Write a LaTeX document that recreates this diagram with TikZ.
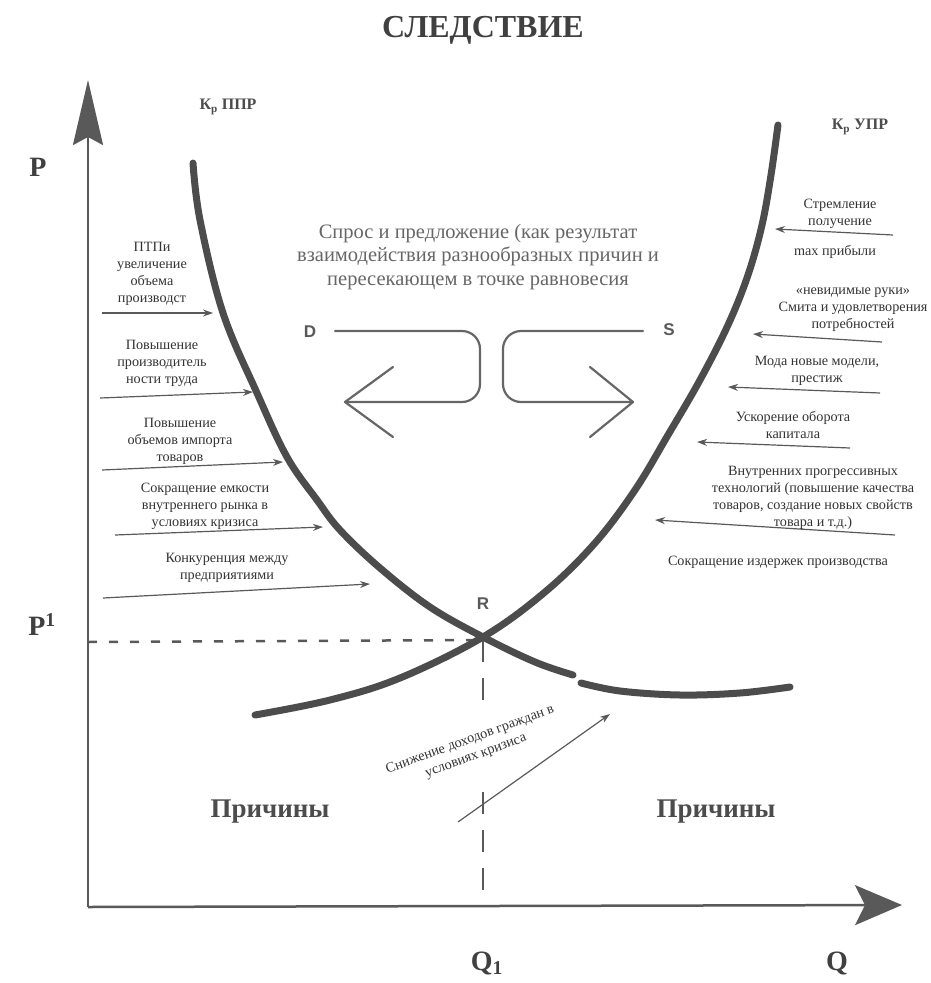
\documentclass[tikz,border=0pt]{standalone}
\usepackage{fontspec}
\setmainfont{Liberation Serif}
\newfontfamily\gillfont{Liberation Sans}
\usetikzlibrary{arrows.meta}
\tikzset{
  curve/.style={line width=7pt, draw=black!70, line cap=round},
  axis/.style={line width=2.5pt, draw=black!65},
  cause/.style={line width=1.2pt, draw=black!65, -{Stealth[length=10pt,width=7pt]}},
  note/.style={font=\fontsize{14.2}{17}\selectfont, text=black!80, align=center, inner sep=0pt},
  bignote/.style={font=\fontsize{20.5}{23.5}\selectfont, text=black!60, align=center, inner sep=0pt},
  axislabel/.style={font=\fontsize{28}{30}\selectfont\bfseries, text=black!75, inner sep=0pt},
  curvelabel/.style={font=\fontsize{16}{18}\selectfont\bfseries, text=black!70, inner sep=0pt},
  sslabel/.style={font=\gillfont\fontsize{17}{18}\selectfont\bfseries, text=black!65, inner sep=0pt},
  reason/.style={font=\fontsize{27}{29}\selectfont\bfseries, text=black!70, inner sep=0pt},
  hookline/.style={line width=2.2pt, draw=black!60, line cap=round, line join=round}
}
\begin{document}
\begin{tikzpicture}[x=1pt,y=-1pt]
\useasboundingbox (0,0) rectangle (930,983);
\node[font=\fontsize{32}{34}\selectfont\bfseries, text=black!75] (title) at (483,30) {СЛЕДСТВИЕ};
\coordinate (O) at (88,907);
\coordinate (Ptop) at (88,80);
\coordinate (Qend) at (902,905);
\draw[axis, -{Stealth[length=65pt,width=30pt,inset=8pt]}] (O) -- (Ptop);
\draw[axis, -{Stealth[length=47pt,width=40pt,inset=10pt]}] (O) -- (Qend);
\node[axislabel] (P) at (38,167) {P};
\node[axislabel] (P1) at (42,625) {P\textsuperscript{1}};
\node[axislabel] (Q1) at (487,963) {Q\textsubscript{1}};
\node[axislabel] (Q) at (837,963) {Q};
\coordinate (Pone) at (88,642);
\coordinate (R) at (483,640);
\coordinate (Rgap) at (483,705);
\coordinate (Qgap) at (483,792);
\coordinate (Qone) at (483,907);
\draw[line width=2.5pt, draw=black!65, dash pattern=on 9pt off 12pt] (Pone) -- (R);
\draw[line width=1.5pt, draw=black!65, dash pattern=on 22pt off 16pt] (R) -- (Rgap);
\draw[line width=1.5pt, draw=black!65, dash pattern=on 22pt off 16pt] (Qgap) -- (Qone);
\node[sslabel] (Rlab) at (483,604) {R};
\draw[curve] plot[smooth, tension=0.6] coordinates {(193,163) (200,220) (223,313) (257,393) (287,457) (317,500) (340,530) (380,568) (430,607) (483,637) (535,662) (573,675)};
\draw[curve] plot[smooth, tension=0.6] coordinates {(581,683) (620,691) (680,695) (740,693) (790,687)};
\draw[curve] plot[smooth, tension=0.6] coordinates {(255,715) (330,700) (400,678) (483,637) (545,592) (595,543) (635,490) (668,435) (700,380) (728,325) (748,275) (762,225) (771,175) (778,125)};
\node[curvelabel] (kppr) at (228,107) {К\textsubscript{р} ППР};
\node[curvelabel] (kupr) at (860,127) {К\textsubscript{р} УПР};
\node[bignote] (center) at (478,257) {Спрос и предложение (как результат\\взаимодействия разнообразных причин и\\пересекающем в точке равновесия};
\node[sslabel] (D) at (310,332) {D};
\node[sslabel] (S) at (669,330) {S};
\draw[hookline, rounded corners=18pt] (335,331) -- (480,331) -- (480,402) -- (345,402);
\draw[hookline] (393,367) -- (345,402) -- (393,437);
\draw[hookline, rounded corners=18pt] (643,331) -- (503,331) -- (503,402) -- (633,402);
\draw[hookline] (590,367) -- (633,402) -- (590,437);
\foreach \n/\xa/\ya/\xb/\yb in {1/102/313/213/313, 2/100/398/253/392, 3/102/470/283/462, 4/115/535/323/527, 5/103/598/370/584} {
  \coordinate (lin\n) at (\xa,\ya);
  \coordinate (lout\n) at (\xb,\yb);
  \draw[cause] (lin\n) -- (lout\n);
}
\foreach \n/\xa/\ya/\xb/\yb in {1/893/235/775/229, 2/882/342/753/334, 3/880/393/728/387, 4/850/448/697/442, 5/895/535/655/520} {
  \coordinate (rin\n) at (\xa,\ya);
  \coordinate (rout\n) at (\xb,\yb);
  \draw[cause] (rin\n) -- (rout\n);
}
\node[note] (ptp) at (152,274) {ПТПи\\увеличение\\объема\\производст};
\node[note] (trud) at (162,363) {Повышение\\производитель\\ности труда};
\node[note] (import) at (180,441) {Повышение\\объемов импорта\\товаров};
\node[note] (rynok) at (205,506) {Сокращение емкости\\внутреннего рынка в\\условиях кризиса};
\node[note] (konk) at (227,568) {Конкуренция между\\предприятиями};
\node[note] (stremlenie) at (840,214) {Стремление\\получение};
\node[note] (max) at (835,252) {max прибыли};
\node[note] (smit) at (853,310) {«невидимые руки»\\Смита и удовлетворения\\потребностей};
\node[note] (moda) at (817,371) {Мода новые модели,\\престиж};
\node[note] (oborot) at (793,425) {Ускорение оборота\\капитала};
\node[note] (tech) at (813,498) {Внутренних прогрессивных\\технологий (повышение качества\\товаров, создание новых свойств\\товара и т.д.)};
\node[note] (izd) at (778,562) {Сокращение издержек производства};
\node[note, rotate=20] (dohod) at (473,748) {Снижение доходов граждан в\\условиях кризиса};
\coordinate (din) at (458,822);
\coordinate (dout) at (610,714);
\draw[cause] (din) -- (dout);
\node[reason] (prich1) at (270,812) {Причины};
\node[reason] (prich2) at (716,812) {Причины};
\end{tikzpicture}
\end{document}
